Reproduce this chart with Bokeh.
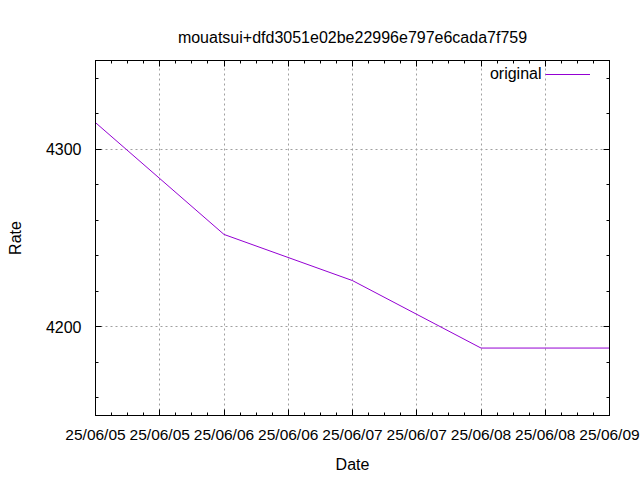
import pandas as pd
from bokeh.plotting import figure
from bokeh.models import (Range1d, FixedTicker, DatetimeTickFormatter, DatetimeAxis, LinearAxis,
                          CustomJSTickFormatter, Label, Legend, LegendItem, Grid)
from bokeh.embed import file_html
from bokeh.resources import INLINE

# ---- data ----
dates = ["2025-06-05", "2025-06-06", "2025-06-07", "2025-06-08", "2025-06-09"]
rates = [4315, 4252, 4226, 4188, 4188]
series_name = "original"
title_text = "mouatsui+dfd3051e02be22996e797e6cada7f759"
x_label = "Date"
y_label = "Rate"
x_start, x_end = "2025-06-05", "2025-06-09"
y_start, y_end = 4150, 4350
y_major = [4200, 4300]
y_minor = [4160, 4180, 4220, 4240, 4260, 4280, 4320, 4340]

FONT = "Liberation Sans"
FS = "16px"

x = pd.to_datetime(dates)
to_ms = lambda idx: [int(t.value // 10**6) for t in idx]
x_major = to_ms(pd.date_range(x_start, x_end, freq="12h"))
x_minor = to_ms(pd.date_range(x_start, x_end, freq="3h"))

p = figure(width=640, height=480, x_axis_type=None, y_axis_type=None,
           x_range=Range1d(pd.Timestamp(x_start), pd.Timestamp(x_end)),
           y_range=Range1d(y_start, y_end),
           output_backend="svg", toolbar_location=None,
           min_border_left=95, min_border_right=31, min_border_top=60, min_border_bottom=65)

p.background_fill_color = "white"
p.border_fill_color = "white"
p.outline_line_color = "black"
p.outline_line_width = 1

xt = FixedTicker(ticks=x_major, minor_ticks=x_minor)
yt = FixedTicker(ticks=y_major, minor_ticks=y_minor)
fmt = "%y/%m/%d"
xfmt = DatetimeTickFormatter(microseconds=fmt, milliseconds=fmt, seconds=fmt, minsec=fmt,
                             minutes=fmt, hourmin=fmt, hours=fmt, days=fmt, months=fmt, years=fmt)
blank = CustomJSTickFormatter(code="return ''")


def style(ax):
    ax.major_tick_in = 6
    ax.major_tick_out = 0
    ax.minor_tick_in = 3
    ax.minor_tick_out = 0
    ax.axis_line_color = "black"
    ax.major_tick_line_color = "black"
    ax.minor_tick_line_color = "black"
    ax.major_label_text_font = FONT
    ax.major_label_text_font_size = FS
    ax.major_label_text_color = "black"
    ax.axis_label_text_font = FONT
    ax.axis_label_text_font_size = FS
    ax.axis_label_text_font_style = "normal"
    ax.axis_label_text_color = "black"


xb = DatetimeAxis(ticker=xt, formatter=xfmt, axis_label=x_label)
style(xb)
xb.major_label_text_font_size = "15.5px"
xb.major_label_standoff = 10
xb.axis_label_standoff = 10
p.add_layout(xb, "below")

yl = LinearAxis(ticker=yt, axis_label=y_label)
style(yl)
yl.major_label_standoff = 14
yl.axis_label_standoff = 19
p.add_layout(yl, "left")

xa = DatetimeAxis(ticker=xt, formatter=blank)
style(xa)
xa.major_label_standoff = 7
p.add_layout(xa, "above")

yr = LinearAxis(ticker=yt, formatter=blank)
style(yr)
yr.major_label_standoff = 0
p.add_layout(yr, "right")

for dim, tk in ((0, xt), (1, yt)):
    g = Grid(dimension=dim, ticker=tk, grid_line_color="#a0a0a0",
             grid_line_dash="2 3", grid_line_width=1)
    p.add_layout(g)

r = p.line(x, rates, line_color="#9400D3", line_width=1)

p.title.text = title_text
p.title.text_font = FONT
p.title.text_font_size = FS
p.title.text_font_style = "normal"
p.title.text_color = "black"
p.title.align = "center"
p.title.offset = -2
p.title.standoff = 29

leg = Legend(items=[LegendItem(label="", renderers=[r])], location=(450, 333),
             glyph_width=45, glyph_height=16, padding=0, margin=0, spacing=0,
             label_standoff=0, label_width=0, border_line_alpha=0,
             background_fill_alpha=0, label_text_font_size="1px")
p.add_layout(leg)

p.add_layout(Label(x=446, y=342, x_units="screen", y_units="screen", text=series_name,
                   text_align="right", text_baseline="middle",
                   text_font=FONT, text_font_size=FS, text_color="black"))

open("out.html", "w").write(file_html(p, INLINE))
